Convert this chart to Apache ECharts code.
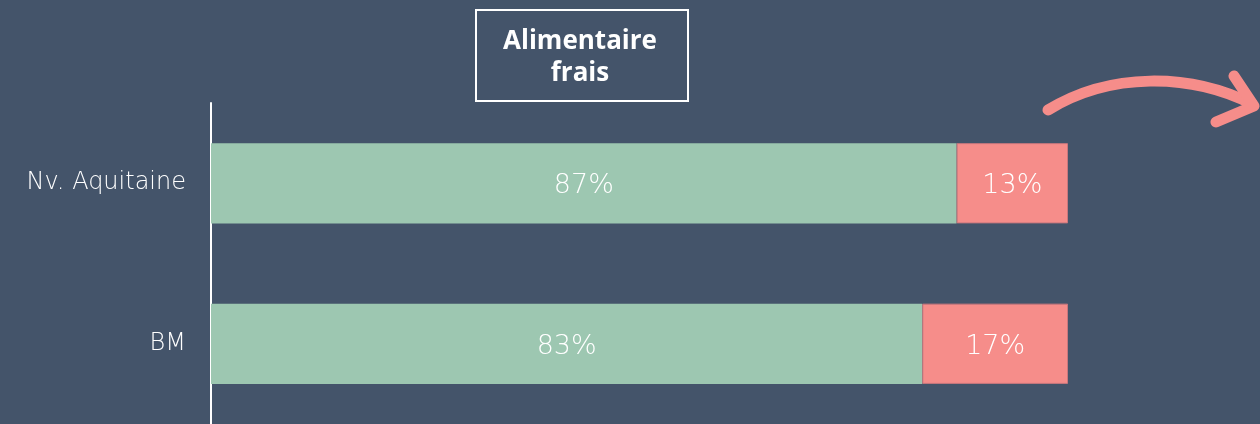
<!DOCTYPE html>
<html>
<head>
<meta charset="utf-8">
<script src="https://cdn.jsdelivr.net/npm/echarts@6/dist/echarts.min.js"></script>
<style>
  html, body { margin: 0; padding: 0; background: #44546a; }
  #chart { width: 1260px; height: 424px; }
</style>
</head>
<body>
<div id="chart"></div>
<script>
// data
var categories = ['Nv. Aquitaine', 'BM'];
var localShare = [87, 83];
var otherShare = [13, 17];

var chart = echarts.init(document.getElementById('chart'));

var option = {
  backgroundColor: '#44546a',
  textStyle: { fontFamily: 'DejaVu Sans' },

  // grid runs past the bottom edge like the original slide
  grid: { left: 211, right: 192, top: 103, height: 324 },

  xAxis: {
    type: 'value',
    min: 0,
    max: 100,
    show: false
  },

  yAxis: {
    type: 'category',
    inverse: true,
    data: categories,
    axisLine: { show: true, lineStyle: { color: '#ffffff', width: 2 } },
    axisTick: { show: false },
    axisLabel: {
      color: '#ffffff', fontSize: 24, margin: 25, fontFamily: 'DejaVu Sans', fontWeight: 300,
      padding: [6, 0, 0, 0]
    }
  },

  series: [
    {
      name: 'local',
      type: 'bar',
      stack: 'total',
      barWidth: '50%',
      data: localShare,
      itemStyle: { color: '#9dc7b1' },
      label: {
        show: true, position: 'inside', color: '#ffffff', fontSize: 27,
        fontFamily: 'DejaVu Sans', fontWeight: 300, offset: [0, 3],
        formatter: '{c}%'
      }
    },
    {
      name: 'autre',
      type: 'bar',
      stack: 'total',
      data: otherShare,
      itemStyle: { color: '#f68d8a', borderColor: '#c9777d', borderWidth: 1 },
      label: {
        show: true, position: 'inside', color: '#ffffff', fontSize: 27,
        fontFamily: 'DejaVu Sans', fontWeight: 300, offset: [0, 3],
        formatter: '{c}%'
      }
    }
  ],

  graphic: [
    // title box
    {
      type: 'rect',
      shape: { x: 476, y: 10, width: 212, height: 91 },
      style: { fill: 'none', stroke: '#ffffff', lineWidth: 2 }
    },
    {
      type: 'text',
      x: 580, y: 58,
      style: {
        text: 'Alimentaire\nfrais',
        fill: '#ffffff',
        font: 'bold 26px "Open Sans"',
        lineHeight: 32,
        align: 'center',
        verticalAlign: 'middle'
      }
    },
    // curved arrow
    {
      type: 'bezierCurve',
      shape: { x1: 1048, y1: 110, x2: 1252, y2: 104, cpx1: 1110, cpy1: 72, cpx2: 1190, cpy2: 73 },
      style: { stroke: '#f68d8a', lineWidth: 11, lineCap: 'round', fill: 'none' }
    },
    {
      type: 'polyline',
      shape: { points: [[1234, 76], [1254, 106], [1216, 122]] },
      style: { stroke: '#f68d8a', lineWidth: 11, lineCap: 'round', lineJoin: 'round', fill: 'none' }
    }
  ]
};

chart.setOption(option);
</script>
</body>
</html>
